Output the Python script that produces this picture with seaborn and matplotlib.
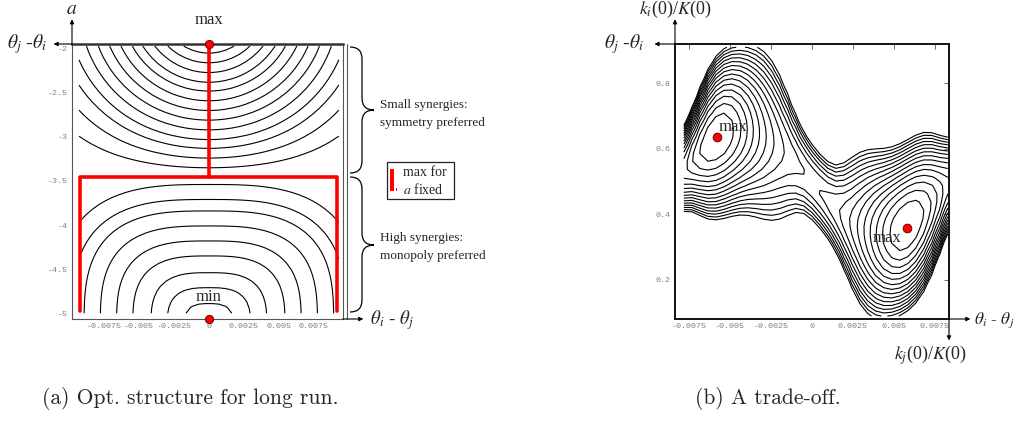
import numpy as np
import pandas as pd
import seaborn as sns
import matplotlib.pyplot as plt
from matplotlib.path import Path
from matplotlib.patches import PathPatch, Rectangle
from matplotlib.ticker import MultipleLocator, FixedLocator

# ---- panel (a): optimal structure for long run ----
a_xticks = [-0.0075, -0.005, -0.0025, 0, 0.0025, 0.005, 0.0075]
a_xticklabels = ["-0.0075", "-0.005", "-0.0025", "0", "0.0025", "0.005", "0.0075"]
a_yticks = [-2, -2.5, -3, -3.5, -4, -4.5, -5]
a_yticklabels = ["-2", "-2.5", "-3", "-3.5", "-4", "-4.5", "-5"]
a_extrema_x = [0, 0]
a_extrema_y = [-1.95, -5.07]          # max (top) and min (bottom)
a_foci = [-1.50, -5.55]               # centres of the two level-curve families
a_min_centre = -5.147                 # centre of the flat-topped curves around the min
a_switch = -3.445                     # where the two regimes meet
# level curves, read off where they cross the symmetry axis (a at x = 0)
a_cross_upper = [-2.05, -2.16, -2.27, -2.38, -2.48, -2.59, -2.70, -2.81, -2.92,
                 -3.03, -3.13, -3.24, -3.35]
a_cross_lower = [-3.54, -3.71, -3.84, -4.01, -4.18, -4.35, -4.54, -4.71, -4.89]
# red "max for a fixed" path
stem_x = [0, 0]
stem_y = [-1.95, -3.46]
branch_x = [-0.0092, -0.0092, 0.0092, 0.0092]
branch_y = [-4.97, -3.46, -3.46, -4.97]

# ---- panel (b): a trade-off ----
b_xticks = [-0.0075, -0.005, -0.0025, 0, 0.0025, 0.005, 0.0075]
b_xticklabels = ["-0.0075", "-0.005", "-0.0025", "0", "0.0025", "0.005", "0.0075"]
b_yticks = [0.2, 0.4, 0.6, 0.8]
b_yticklabels = ["0.2", "0.4", "0.6", "0.8"]
b_max_x = [-0.0058, 0.0058]
b_max_y = [0.637, 0.358]
b_levels = [0.02, 0.085, 0.15, 0.215, 0.28, 0.345, 0.41, 0.475, 0.54,
            0.605, 0.67, 0.735, 0.80, 0.865, 0.93]

sns.set_theme(style="white")
plt.rcParams["font.family"] = ["Liberation Serif", "DejaVu Serif"]
plt.rcParams["mathtext.fontset"] = "stix"

fig = plt.figure(figsize=(10.16, 4.23), dpi=100)
ax_a = fig.add_axes([72 / 1016, 1 - 319 / 423, 271 / 1016, 275 / 423])
ax_b = fig.add_axes([675 / 1016, 1 - 319 / 423, 274 / 1016, 275 / 423])

tick_font = dict(family="Liberation Mono", size=6, color="#808080")


def style_axes(ax, xt, xl, yt, yl, xminor, yminor):
    ax.xaxis.set_major_locator(FixedLocator(xt))
    ax.yaxis.set_major_locator(FixedLocator(yt))
    ax.set_xticklabels(xl, **tick_font)
    ax.set_yticklabels(yl, **tick_font)
    ax.xaxis.set_minor_locator(MultipleLocator(xminor))
    ax.yaxis.set_minor_locator(MultipleLocator(yminor))
    ax.tick_params(which="both", direction="in", color="#555555", width=0.6, pad=3)
    ax.tick_params(which="major", length=3.5)
    ax.tick_params(which="minor", length=1.8)
    ax.set_xlabel("")
    ax.set_ylabel("")


def arrow(ax, start, end, lw=0.8):
    ax.annotate("", xy=end, xytext=start, xycoords="axes fraction",
                arrowprops=dict(arrowstyle="-|>", lw=lw, color="black",
                                mutation_scale=6, shrinkA=0, shrinkB=0))


def payoff_upper(x, a, scale=158, decay=0.5):
    # near-circular level curves around the max, flattening towards a_switch
    xs = x * scale
    d_top = np.hypot(xs, a - a_foci[0])
    d_bot = np.hypot(xs, a - a_foci[1])
    return np.exp(-d_top / decay) - np.exp(-d_bot / decay)


def payoff_lower(x, a, scale=158 / 1.08, p=3.0):
    # flat-topped (superellipse) level curves over the min
    xs = np.abs(x) * scale
    return (xs ** p + np.abs(a - a_min_centre) ** p) ** (1 / p)


# ---------------- panel (a) ----------------
gx = np.linspace(-0.0093, 0.0093, 40)
gy_up = np.linspace(a_switch, -1.97, 24)
gy_lo = np.linspace(-5.0, a_switch, 26)
GX, GY = np.meshgrid(gx, gy_up)
ax_a.contour(GX, GY, payoff_upper(GX, GY),
             levels=np.sort(payoff_upper(0.0, np.array(a_cross_upper))),
             colors="black", linewidths=0.8, linestyles="solid")
GX, GY = np.meshgrid(gx, gy_lo)
ax_a.contour(GX, GY, payoff_lower(GX, GY),
             levels=np.sort(payoff_lower(0.0, np.array(a_cross_lower))),
             colors="black", linewidths=0.8, linestyles="solid")

sns.lineplot(x=stem_x, y=stem_y, ax=ax_a, color="#ff0000", lw=2.6, sort=False, estimator=None)
sns.lineplot(x=branch_x, y=branch_y, ax=ax_a, color="#ff0000", lw=2.6, sort=False,
             estimator=None)
sns.scatterplot(x=a_extrema_x, y=a_extrema_y, ax=ax_a, color="#ff0000", s=36,
                edgecolor="#550000", linewidth=0.6, zorder=5)
ax_a.collections[-1].set_clip_on(False)

ax_a.set_xlim(-0.0098, 0.0096)
ax_a.set_ylim(-5.065, -1.947)
style_axes(ax_a, a_xticks, a_xticklabels, a_yticks, a_yticklabels, 0.0005, 0.1)
ax_a.tick_params(top=False, right=False)
for side in ["left", "bottom", "right"]:
    ax_a.spines[side].set_color("#555555")
    ax_a.spines[side].set_linewidth(0.8)
ax_a.spines["top"].set_color("#333333")
ax_a.spines["top"].set_linewidth(1.8)
ax_a.plot([1.013, 1.013], [0, 1], transform=ax_a.transAxes, color="#555555",
          lw=0.8, clip_on=False)

ax_a.text(0, -1.68, "max", ha="center", va="center", fontsize=12, clip_on=False)
ax_a.text(0, -4.81, "min", ha="center", va="center", fontsize=12)

arrow(ax_a, (0, 1), (0, 1.09))
arrow(ax_a, (0, 1), (-0.068, 1))
arrow(ax_a, (1, 0), (1.075, 0))
ax_a.text(0, 1.125, r"$a$", transform=ax_a.transAxes, ha="center", va="center", fontsize=14)
ax_a.text(-0.09, 1.0, r"$\theta_j$ -$\theta_i$", transform=ax_a.transAxes,
          ha="right", va="center", fontsize=14)
ax_a.text(1.1, -0.005, r"$\theta_i$ - $\theta_j$", transform=ax_a.transAxes,
          ha="left", va="center", fontsize=13.5)

# ---------------- panel (b) ----------------
hx = np.linspace(-0.0078, 0.0083, 34)
hy = np.linspace(0.09, 0.91, 34)
HX, HY = np.meshgrid(hx, hy)
U = HX / 0.01
peak_u = np.array(b_max_x) / 0.01
bumps = np.exp(-((U - peak_u[0]) / 0.3) ** 2) + np.exp(-((U - peak_u[1]) / 0.3) ** 2)
height = 0.38 + 0.62 * bumps
centre = 0.5 - 0.16 * np.sin(np.pi * U / 0.85)
halfwidth = 0.115 + 0.15 * (np.exp(-((U + 0.42) / 0.3) ** 4) + np.exp(-((U - 0.5) / 0.3) ** 4))
t = (HY - centre) / halfwidth
field_b = height * (1 - t ** 2)
ax_b.contour(HX, HY, field_b, levels=b_levels, colors="black", linewidths=0.8,
             linestyles="solid")

sns.scatterplot(x=b_max_x, y=b_max_y, ax=ax_b, color="#ff0000", s=40,
                edgecolor="#550000", linewidth=0.6, zorder=5)
ax_b.text(-0.0057, 0.667, "max", ha="left", va="center", fontsize=12)
ax_b.text(0.0037, 0.328, "max", ha="left", va="center", fontsize=12)

ax_b.set_xlim(-0.00834, 0.00837)
ax_b.set_ylim(0.081, 0.92)
style_axes(ax_b, b_xticks, b_xticklabels, b_yticks, b_yticklabels, 0.0005, 0.04)
ax_b.tick_params(top=True, right=True)
for side in ["left", "bottom", "right", "top"]:
    ax_b.spines[side].set_color("#111111")
    ax_b.spines[side].set_linewidth(1.4)

arrow(ax_b, (0, 1), (0, 1.09))
arrow(ax_b, (0, 1), (-0.075, 1))
arrow(ax_b, (1, 0), (1.078, 0))
arrow(ax_b, (1, 0), (1, -0.078))
ax_b.text(0, 1.125, r"$k_i$(0)/$K$(0)", transform=ax_b.transAxes, ha="center",
          va="center", fontsize=13)
ax_b.text(-0.11, 1.0, r"$\theta_j$ -$\theta_i$", transform=ax_b.transAxes,
          ha="right", va="center", fontsize=14)
ax_b.text(1.09, -0.005, r"$\theta_i$ - $\theta_j$", transform=ax_b.transAxes,
          ha="left", va="center", fontsize=12.5)
ax_b.text(0.93, -0.13, r"$k_j$(0)/$K$(0)", transform=ax_b.transAxes, ha="center",
          va="center", fontsize=13)

# ---------------- annotations in pixel space ----------------
ov = fig.add_axes([0, 0, 1, 1], zorder=-1)
ov.set_xlim(0, 1016)
ov.set_ylim(423, 0)
ov.axis("off")


def brace(x0, xm, x1, ytop, ybot, ytip, r=12):
    verts = [(x0, ytop), (xm, ytop), (xm, ytop + r), (xm, ytip - r), (xm, ytip), (x1, ytip),
             (x1, ytip), (xm, ytip), (xm, ytip + r), (xm, ybot - r), (xm, ybot), (x0, ybot)]
    codes = [Path.MOVETO, Path.CURVE3, Path.CURVE3, Path.LINETO, Path.CURVE3, Path.CURVE3,
             Path.MOVETO, Path.CURVE3, Path.CURVE3, Path.LINETO, Path.CURVE3, Path.CURVE3]
    ov.add_patch(PathPatch(Path(verts, codes), fill=False, lw=0.9, color="black"))


brace(350, 362, 374, 47, 173, 110)
brace(350, 362, 374, 177, 312, 245)
ov.text(380, 105, "Small synergies:", fontsize=9.5, va="center")
ov.text(380, 123, "symmetry preferred", fontsize=9.5, va="center")
ov.text(380, 238, "High synergies:", fontsize=9.5, va="center")
ov.text(380, 256, "monopoly preferred", fontsize=9.5, va="center")

ov.add_patch(Rectangle((387, 162), 67, 37, fill=False, lw=0.9, edgecolor="#222222"))
ov.add_patch(Rectangle((390, 169), 3.5, 22, color="#ff0000", lw=0))
ov.add_patch(Rectangle((395.5, 188), 1.2, 3, color="#ff0000", lw=0))
ov.text(403, 172, "max for", fontsize=10, va="center")
ov.text(403, 190, r"$a$ fixed", fontsize=10, va="center")

ov.text(190, 398, "(a) Opt. structure for long run.", family="cmr10", fontsize=15.5,
        ha="center", va="center")
ov.text(768, 398, "(b) A trade-off.", family="cmr10", fontsize=15.5,
        ha="center", va="center")

fig.savefig("out.png", dpi=100)
